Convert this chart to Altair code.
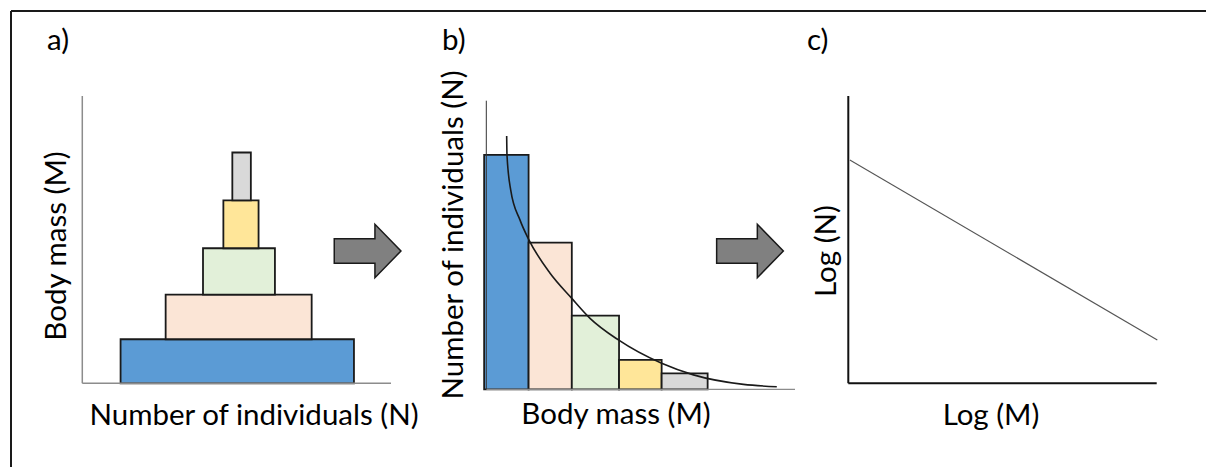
import altair as alt
import pandas as pd

# ---------------- data ----------------
# Panel a: size pyramid (N extent on x, body-mass class on y)
a_classes = ["c1", "c2", "c3", "c4", "c5"]
a_n_left = [1.24, 2.70, 3.91, 4.57, 4.86]
a_n_right = [8.80, 7.43, 6.24, 5.71, 5.46]
a_m_low = [0.00, 0.92, 1.85, 2.82, 3.82]
a_m_high = [0.92, 1.85, 2.82, 3.82, 4.82]

# Panel b: histogram of N per body-mass class
b_m_left = [-0.07, 1.37, 2.77, 4.30, 5.68]
b_m_right = [1.37, 2.77, 4.30, 5.68, 7.17]
b_n = [8.12, 5.08, 2.55, 1.02, 0.55]

# Panel b: fitted decay curve
curve_m = [0.66, 0.67, 0.79, 1.09, 1.38, 2.06, 2.77, 3.36, 4.28, 5.68, 6.71, 8.33, 9.41]
curve_n = [8.78, 8.12, 6.91, 5.87, 5.18, 4.03, 3.15, 2.46, 1.71, 0.90, 0.50, 0.17, 0.09]

# Panel c: log-log line
c_logm = [0.05, 10.02]
c_logn = [7.77, 1.51]

colors = ["#5B9BD5", "#FBE5D6", "#E2F0D9", "#FFE699", "#D9D9D9"]

FONT = "Lato"
FS = 29.5

# ---------------- scales ----------------
def sx(rng, dom=(0, 10)):
    return alt.Scale(domain=list(dom), range=list(rng), nice=False, zero=False)

ax_x = sx([82.3, 391]);   ax_y = sx([383.3, 96], (0, 6))
bx_x = sx([486.3, 795]);  bx_y = sx([389.3, 100.7])
cx_x = sx([848.3, 1156.7]); cx_y = sx([383.3, 96])

color_scale = alt.Scale(domain=a_classes, range=colors)

# ---------------- panel a ----------------
df_a = pd.DataFrame({"cls": a_classes, "x0": a_n_left, "x1": a_n_right,
                     "y0": a_m_low, "y1": a_m_high})
a_axes = alt.Chart(pd.DataFrame({"x0": [0, 0], "x1": [10, 0], "y0": [0, 0], "y1": [0, 6]})).mark_rule(
    color="#8c8c8c", strokeWidth=1.5).encode(
    x=alt.X("x0:Q", scale=ax_x, axis=None), x2="x1:Q",
    y=alt.Y("y0:Q", scale=ax_y, axis=None), y2="y1:Q")
a_bars = alt.Chart(df_a).mark_rect(stroke="#1a1a1a", strokeWidth=1.8).encode(
    x=alt.X("x0:Q", scale=ax_x, axis=None), x2="x1:Q",
    y=alt.Y("y0:Q", scale=ax_y, axis=None), y2="y1:Q",
    color=alt.Color("cls:N", scale=color_scale, legend=None))

# ---------------- panel b ----------------
df_b = pd.DataFrame({"cls": a_classes, "x0": b_m_left, "x1": b_m_right,
                     "y0": [0] * 5, "y1": b_n})
b_xaxis = alt.Chart(pd.DataFrame({"x0": [0], "x1": [10], "y0": [0]})).mark_rule(
    color="#8c8c8c", strokeWidth=1.2).encode(
    x=alt.X("x0:Q", scale=bx_x, axis=None), x2="x1:Q",
    y=alt.Y("y0:Q", scale=bx_y, axis=None))
b_yaxis = alt.Chart(pd.DataFrame({"x0": [0], "y0": [0], "y1": [10]})).mark_rule(
    color="#333333", strokeWidth=1).encode(
    x=alt.X("x0:Q", scale=bx_x, axis=None),
    y=alt.Y("y0:Q", scale=bx_y, axis=None), y2="y1:Q")
b_bars = alt.Chart(df_b).mark_rect(stroke="#1a1a1a", strokeWidth=1.8).encode(
    x=alt.X("x0:Q", scale=bx_x, axis=None), x2="x1:Q",
    y=alt.Y("y0:Q", scale=bx_y, axis=None), y2="y1:Q",
    color=alt.Color("cls:N", scale=color_scale, legend=None))
b_curve = alt.Chart(pd.DataFrame({"m": curve_m, "n": curve_n})).mark_line(
    color="#1a1a1a", strokeWidth=1.6, interpolate="monotone").encode(
    x=alt.X("m:Q", scale=bx_x, axis=None),
    y=alt.Y("n:Q", scale=bx_y, axis=None))

# ---------------- panel c ----------------
c_axes = alt.Chart(pd.DataFrame({"x0": [0, 0], "x1": [10, 0], "y0": [0, 0], "y1": [0, 10]})).mark_rule(
    color="#111111", strokeWidth=2).encode(
    x=alt.X("x0:Q", scale=cx_x, axis=None), x2="x1:Q",
    y=alt.Y("y0:Q", scale=cx_y, axis=None), y2="y1:Q")
c_line = alt.Chart(pd.DataFrame({"m": c_logm, "n": c_logn})).mark_line(
    color="#555555", strokeWidth=1.1).encode(
    x=alt.X("m:Q", scale=cx_x, axis=None),
    y=alt.Y("n:Q", scale=cx_y, axis=None))

# ---------------- annotations ----------------
one = alt.Data(values=[{}])
ARROW = "M -1 -0.366 L 0.22 -0.366 L 0.22 -0.8 L 1 0 L 0.22 0.8 L 0.22 0.366 L -1 0.366 Z"

def arrow(x, y):
    return alt.Chart(one).mark_point(shape=ARROW, size=4449, filled=True, fill="#808080",
                                     stroke="#1a1a1a", strokeWidth=1.5, opacity=1).encode(
        x=alt.value(x), y=alt.value(y))

def label(txt, x, y, angle=0, align="center"):
    kw = dict(text=txt, font=FONT, fontSize=FS, color="#000000", align=align, baseline="alphabetic")
    if angle:
        kw["angle"] = angle
    return alt.Chart(one).mark_text(**kw).encode(x=alt.value(x), y=alt.value(y))

frame_top = alt.Chart(one).mark_rule(color="#1a1a1a", strokeWidth=2).encode(
    x=alt.value(11), x2=alt.value(1206), y=alt.value(11))
frame_left = alt.Chart(one).mark_rule(color="#1a1a1a", strokeWidth=2).encode(
    x=alt.value(11), y=alt.value(11), y2=alt.value(467))

layers = [
    frame_top, frame_left,
    a_bars, a_axes,
    b_bars, b_xaxis, b_yaxis, b_curve,
    c_axes, c_line,
    arrow(367.6, 251), arrow(750, 251),
    label("a)", 47, 50, align="left"),
    label("b)", 442, 50, align="left"),
    label("c)", 807, 50, align="left"),
    label("Number of individuals (N)", 254, 425),
    label("Body mass (M)", 66, 246, angle=270),
    label("Body mass (M)", 616, 424),
    label("Number of individuals (N)", 463, 235, angle=270),
    label("Log (M)", 991, 425),
    label("Log (N)", 836, 251, angle=270),
]

chart = alt.layer(*layers).resolve_scale(x="independent", y="independent", color="shared").properties(
    width=1206, height=467, padding=0, autosize=alt.AutoSizeParams(type="none"),
    background="white"
).configure_view(stroke=None)

chart.save("out.html", embed_options={"renderer": "svg", "actions": False})
